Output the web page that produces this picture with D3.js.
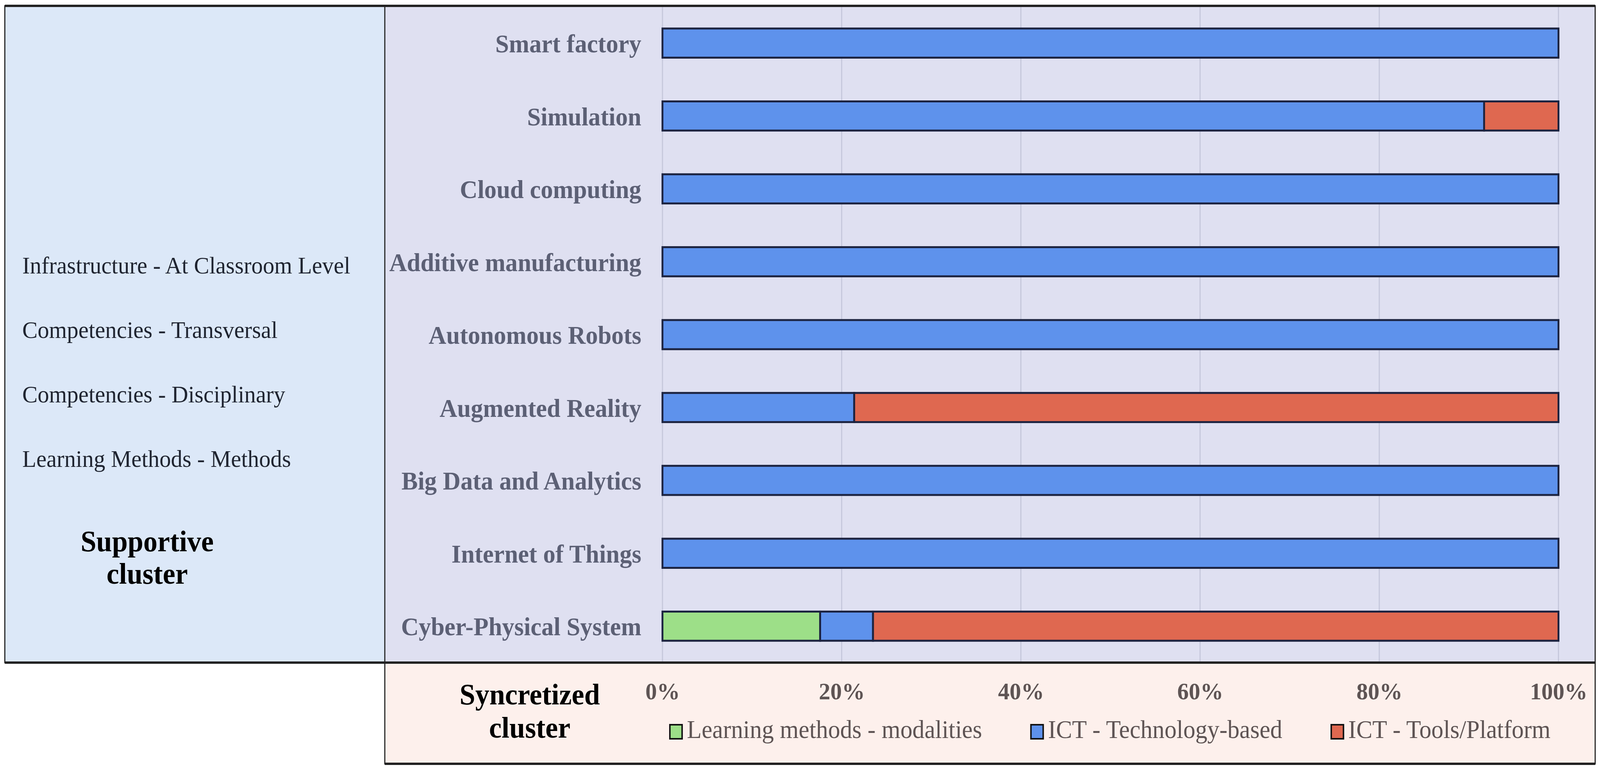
<!DOCTYPE html>
<html lang="en">
<head>
    <meta charset="UTF-8">
    <title>Syncretized and supportive clusters</title>
    <script src="https://d3js.org/d3.v7.min.js"></script>
    <style>
        html, body {
            margin: 0;
            padding: 0;
            overflow: hidden;
            background-color: #ffffff;
        }

        #chart-container svg {
            display: block;
            width: 100vw;
            height: 100vh;
        }

        svg text {
            font-family: "Liberation Serif", "Times New Roman", serif;
        }

        .cat-axis text {
            font-size: 66px;
            font-weight: bold;
            fill: #5c6075;
        }

        .pct-axis text {
            font-size: 62px;
            font-weight: bold;
            fill: #5e5454;
        }

        .legend-label {
            font-size: 65px;
            fill: #5e5454;
        }

        .side-item {
            font-size: 62px;
            fill: #1f2430;
        }

        .cluster-title {
            font-size: 76px;
            font-weight: bold;
            fill: #000000;
        }
    </style>
</head>
<body>
    <div id="chart-container"></div>
    <script>
        // Data (percent of each technology)
        const categories = [
            "Smart factory",
            "Simulation",
            "Cloud computing",
            "Additive manufacturing",
            "Autonomous Robots",
            "Augmented Reality",
            "Big Data and Analytics",
            "Internet of Things",
            "Cyber-Physical System"
        ];
        const seriesNames = [
            "Learning methods - modalities",
            "ICT - Technology-based",
            "ICT - Tools/Platform"
        ];
        const learningModalities = [0, 0, 0, 0, 0, 0, 0, 0, 17.6];
        const ictTechnology = [100, 91.7, 100, 100, 100, 21.4, 100, 100, 5.9];
        const ictTools = [0, 8.3, 0, 0, 0, 78.6, 0, 0, 76.5];
        const tickValues = [0, 20, 40, 60, 80, 100];

        const supportiveItems = [
            "Infrastructure - At Classroom Level",
            "Competencies - Transversal",
            "Competencies - Disciplinary",
            "Learning Methods - Methods"
        ];
        const supportiveTitle = ["Supportive", "cluster"];
        const syncretizedTitle = ["Syncretized", "cluster"];

        const seriesColors = ["#9ddf88", "#5e92ec", "#df6850"];

        // Layout (drawn in a 4316 x 1976 space, stretched to the window)
        const W = 4316, H = 1976;
        const leftX = 13, midX = 1038, rightX = 4303;
        const topY = 15, splitY = 1696, bottomY = 1955;
        const plotLeft = 1787, plotRight = 4204;

        const svg = d3.select("#chart-container")
            .append("svg")
            .attr("viewBox", `0 0 ${W} ${H}`)
            .attr("preserveAspectRatio", "none");

        // Panels
        svg.append("rect")
            .attr("x", leftX).attr("y", topY)
            .attr("width", midX - leftX).attr("height", splitY - topY)
            .attr("fill", "#dce8f8");
        svg.append("rect")
            .attr("x", midX).attr("y", topY)
            .attr("width", rightX - midX).attr("height", splitY - topY)
            .attr("fill", "#dfe0f1");
        svg.append("rect")
            .attr("x", midX).attr("y", splitY)
            .attr("width", rightX - midX).attr("height", bottomY - splitY)
            .attr("fill", "#fdf0ec");

        // Scales
        const table = categories.map((c, i) => ({
            category: c,
            [seriesNames[0]]: learningModalities[i],
            [seriesNames[1]]: ictTechnology[i],
            [seriesNames[2]]: ictTools[i]
        }));
        const stacked = d3.stack().keys(seriesNames)(table);

        const x = d3.scaleLinear().domain([0, 100]).range([plotLeft, plotRight]);
        const y = d3.scaleBand()
            .domain(categories)
            .range([topY + 2, splitY])
            .paddingInner(0.6)
            .paddingOuter(0.3);
        const color = d3.scaleOrdinal().domain(seriesNames).range(seriesColors);

        // Gridlines
        svg.append("g")
            .selectAll("line")
            .data(tickValues)
            .join("line")
            .attr("x1", d => x(d)).attr("x2", d => x(d))
            .attr("y1", topY + 2).attr("y2", splitY - 2)
            .attr("stroke", "#c5c7db")
            .attr("stroke-width", 3);

        // Bars
        svg.append("g")
            .selectAll("g")
            .data(stacked)
            .join("g")
            .attr("fill", d => color(d.key))
            .selectAll("rect")
            .data(d => d.filter(s => s[1] - s[0] > 0))
            .join("rect")
            .attr("x", d => x(d[0]))
            .attr("y", d => y(d.data.category))
            .attr("width", d => x(d[1]) - x(d[0]))
            .attr("height", y.bandwidth())
            .attr("stroke", "#1c2340")
            .attr("stroke-width", 5);

        // Category axis
        const catAxis = svg.append("g")
            .attr("class", "cat-axis")
            .attr("transform", `translate(${plotLeft},0)`)
            .call(d3.axisLeft(y).tickSize(0).tickPadding(57));
        catAxis.select(".domain").remove();
        catAxis.selectAll("text").attr("dy", "0.36em");

        // Percent axis (in the bottom panel)
        const pctAxis = svg.append("g")
            .attr("class", "pct-axis")
            .attr("transform", "translate(0,1790)")
            .call(d3.axisBottom(x).tickValues(tickValues).tickFormat(d => d + "%").tickSize(0));
        pctAxis.select(".domain").remove();
        pctAxis.selectAll("text").attr("y", 0).attr("dy", 0);

        // Legend
        const legend = svg.append("g").attr("transform", "translate(0,1855)");
        let lx = 1807;
        seriesNames.forEach(name => {
            legend.append("rect")
                .attr("x", lx).attr("y", 0)
                .attr("width", 33).attr("height", 36)
                .attr("fill", color(name))
                .attr("stroke", "#111")
                .attr("stroke-width", 4);
            const t = legend.append("text")
                .attr("class", "legend-label")
                .attr("x", lx + 46)
                .attr("y", 34)
                .text(name);
            lx += 46 + t.node().getComputedTextLength() + 132;
        });

        // Supportive cluster panel
        svg.append("g")
            .selectAll("text")
            .data(supportiveItems)
            .join("text")
            .attr("class", "side-item")
            .attr("x", 60)
            .attr("y", (d, i) => 700 + i * 165)
            .text(d => d);

        svg.append("g")
            .selectAll("text")
            .data(supportiveTitle)
            .join("text")
            .attr("class", "cluster-title")
            .attr("x", 397)
            .attr("y", (d, i) => 1411 + i * 83)
            .attr("text-anchor", "middle")
            .text(d => d);

        svg.append("g")
            .selectAll("text")
            .data(syncretizedTitle)
            .join("text")
            .attr("class", "cluster-title")
            .attr("x", 1429)
            .attr("y", (d, i) => 1803 + i * 85)
            .attr("text-anchor", "middle")
            .text(d => d);

        // Borders
        const borders = svg.append("g").attr("stroke", "#222").attr("fill", "none");
        borders.append("rect")
            .attr("x", leftX).attr("y", topY)
            .attr("width", rightX - leftX).attr("height", splitY - topY)
            .attr("stroke-width", 3);
        borders.append("rect")
            .attr("x", midX).attr("y", splitY)
            .attr("width", rightX - midX).attr("height", bottomY - splitY)
            .attr("stroke-width", 3);
        borders.append("line")
            .attr("x1", midX).attr("x2", midX)
            .attr("y1", topY).attr("y2", splitY)
            .attr("stroke-width", 3);
        // heavier top and bottom rules
        borders.append("line")
            .attr("x1", leftX).attr("x2", rightX)
            .attr("y1", topY).attr("y2", topY)
            .attr("stroke-width", 6);
        borders.append("line")
            .attr("x1", leftX).attr("x2", rightX)
            .attr("y1", splitY).attr("y2", splitY)
            .attr("stroke-width", 6);
        borders.append("line")
            .attr("x1", midX).attr("x2", rightX)
            .attr("y1", bottomY).attr("y2", bottomY)
            .attr("stroke-width", 6);
    </script>
</body>
</html>
